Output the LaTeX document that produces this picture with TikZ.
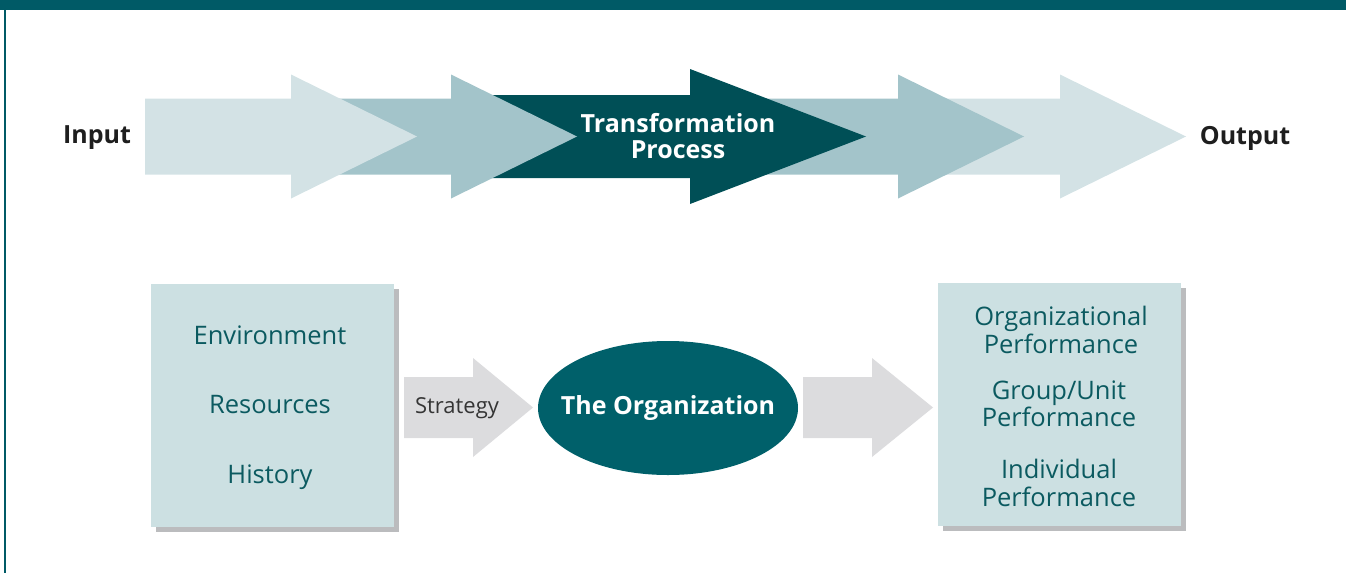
\documentclass[tikz,border=0pt]{standalone}
\usepackage{fontspec}
\setmainfont{Open Sans}
\usetikzlibrary{shapes.geometric}
\definecolor{bar}{HTML}{005A66}
\definecolor{alight}{HTML}{D3E2E5}
\definecolor{amed}{HTML}{A3C4CA}
\definecolor{adark}{HTML}{004F56}
\definecolor{boxfill}{HTML}{CCE0E2}
\definecolor{shadowgray}{HTML}{BBBCBE}
\definecolor{garrow}{HTML}{DCDCDE}
\definecolor{ellfill}{HTML}{00606A}
\definecolor{tealtext}{HTML}{0B5A60}
\definecolor{darktext}{HTML}{1E1E1E}
\tikzset{
  lbl/.style={font=\fontsize{25}{28}\selectfont\bfseries, text=darktext, inner sep=0pt},
  boxtext/.style={font=\fontsize{25.5}{27.5}\selectfont, text=tealtext, align=center, inner sep=0pt},
  panel/.style={fill=boxfill, draw=none, anchor=north west, inner sep=0pt, minimum width=243pt, minimum height=243pt},
  shadowbox/.style={fill=shadowgray},
}
\begin{document}
\begin{tikzpicture}[x=1pt,y=-1pt]
\useasboundingbox (0,0) rectangle (1346,573);
% frame
\fill[bar] (0,0) rectangle (1346,10);
\fill[bar] (4.3,10) rectangle (5.7,573);
% top arrows
\fill[alight] (920,98.5) -- (1060,98.5) -- (1060,74.5) -- (1186,136.5) -- (1060,198.5) -- (1060,174.5) -- (920,174.5) -- cycle;
\fill[amed] (740,98.5) -- (898,98.5) -- (898,74.5) -- (1024,136.5) -- (898,198.5) -- (898,174.5) -- (740,174.5) -- cycle;
\fill[adark] (470,95) -- (690,95) -- (690,69) -- (866,136.5) -- (690,204) -- (690,178) -- (470,178) -- cycle;
\fill[amed] (300,98.5) -- (451,98.5) -- (451,74.5) -- (577,136.5) -- (451,198.5) -- (451,174.5) -- (300,174.5) -- cycle;
\fill[alight] (145,98.5) -- (291,98.5) -- (291,74.5) -- (417,136.5) -- (291,198.5) -- (291,174.5) -- (145,174.5) -- cycle;
\node[lbl] (input) at (97,138) {Input};
\node[lbl] (output) at (1245,138) {Output};
\node[lbl, text=white, align=center, font=\fontsize{25}{25.5}\selectfont\bfseries] (trans) at (678,136) {Transformation\\Process};
% left box
\fill[shadowbox] (156,289) rectangle (399,532);
\node[panel] (left) at (151,284) {};
\node[boxtext] (env) at (270,335) {Environment};
\node[boxtext] (res) at (270,405) {Resources};
\node[boxtext] (his) at (270,477) {History};
% strategy arrow
\fill[garrow] (404,377) -- (473,377) -- (473,358) -- (533,407.5) -- (473,457) -- (473,438) -- (404,438) -- cycle;
\node[font=\fontsize{22}{24}\selectfont, text=darktext!90, inner sep=0pt] (strat) at (457,408) {Strategy};
% ellipse
\node[ellipse, fill=ellfill, minimum width=260pt, minimum height=134pt, inner sep=0pt] (org) at (668,408) {};
\node[font=\fontsize{25}{28}\selectfont\bfseries, text=white, inner sep=0pt] (orgtext) at (org.center) {The Organization};
% right arrow
\fill[garrow] (803,377) -- (872,377) -- (872,358) -- (933,407.5) -- (872,457) -- (872,438) -- (803,438) -- cycle;
% right box
\fill[shadowbox] (943,288) rectangle (1186,531);
\node[panel] (right) at (938,283) {};
\node[boxtext] (op) at (1061,330) {Organizational\\Performance};
\node[boxtext] (gp) at (1059,404) {Group/Unit\\Performance};
\node[boxtext] (ip) at (1059,483) {Individual\\Performance};
\end{tikzpicture}
\end{document}
